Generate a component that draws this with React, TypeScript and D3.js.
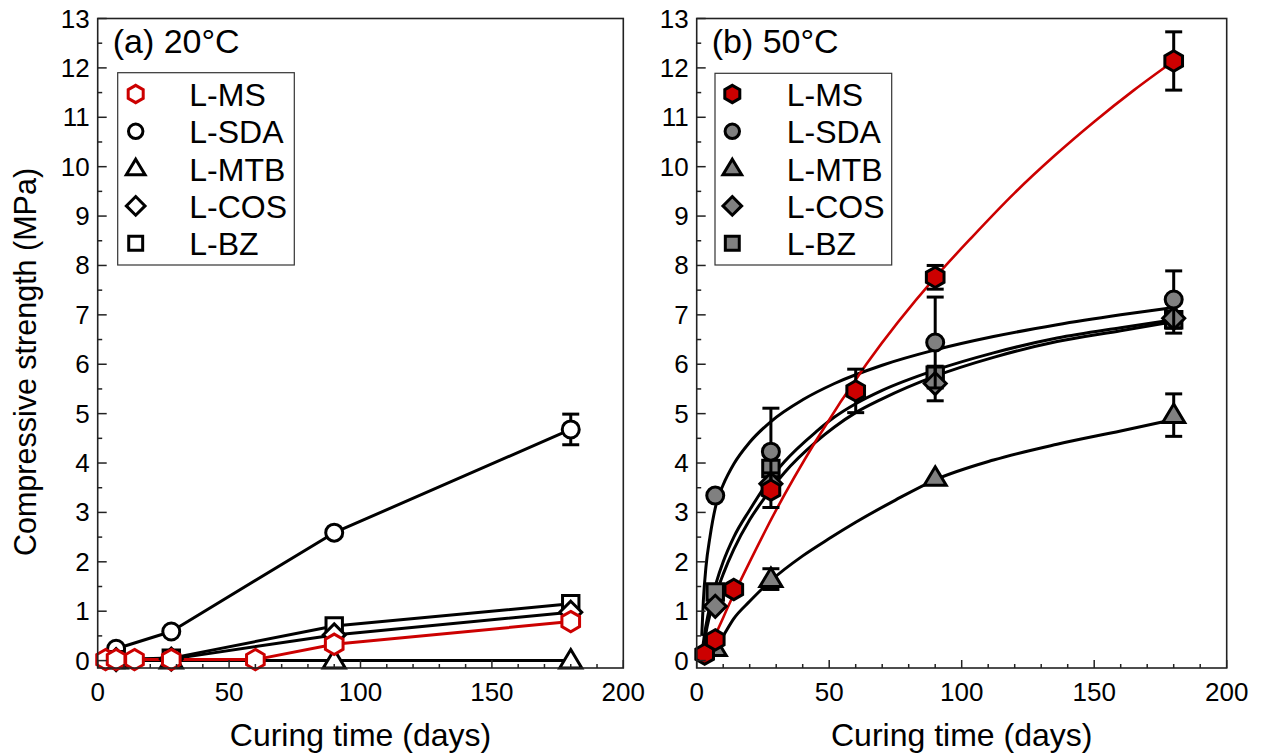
import React from "react";
import * as d3 from "d3";

// ---------- data ----------
const seriesNames = ["L-MS", "L-SDA", "L-MTB", "L-COS", "L-BZ"];
const seriesShapes = ["hexagon", "circle", "triangle", "diamond", "square"];

// (a) 20 °C measured points
const msDays20 = [3, 7, 14, 28, 60, 90, 180];
const msVals20 = [0.02, 0.02, 0.02, 0.02, 0.02, 0.33, 0.79];
const otherDays20 = [7, 28, 90, 180];
const sdaVals20 = [0.24, 0.59, 2.59, 4.68];
const sdaErr20 = [0, 0, 0, 0.31];
const mtbVals20 = [0.0, 0.0, 0.0, 0.0];
const cosVals20 = [0.02, 0.03, 0.52, 0.98];
const bzVals20 = [0.02, 0.05, 0.7, 1.15];

// (b) 50 °C measured points
const msDays50 = [3, 7, 14, 28, 60, 90, 180];
const msVals50 = [0.13, 0.42, 1.44, 3.45, 5.46, 7.76, 12.14];
const msErr50 = [0, 0, 0, 0.35, 0.44, 0.24, 0.59];
const otherDays50 = [7, 28, 90, 180];
const sdaVals50 = [3.34, 4.23, 6.44, 7.31];
const sdaErr50 = [0, 0.88, 0.92, 0.58];
const mtbVals50 = [0.25, 1.65, 3.7, 4.97];
const mtbErr50 = [0, 0.21, 0, 0.43];
const cosVals50 = [1.1, 3.58, 5.61, 6.93];
const cosErr50 = [0, 0, 0.35, 0.3];
const bzVals50 = [1.39, 3.89, 5.78, 6.9];
const bzErr50 = [0, 0, 0.15, 0.15];

// (b) fitted curves
const msFitDays = [3, 7, 12.6, 20, 30, 45, 64, 90, 104, 120, 135, 150, 165, 180];
const msFitVals = [0.1, 0.52, 1.18, 2.0, 3.05, 4.45, 6.0, 7.76, 8.58, 9.47, 10.22, 10.91, 11.55, 12.14];
const sdaFitDays = [1.9, 2.5, 3.5, 5, 7.5, 10, 14, 20, 28, 40, 52, 70, 90, 112, 136, 160, 180];
const sdaFitVals = [0.5, 1.2, 1.9, 2.5, 3.2, 3.56, 3.98, 4.42, 4.84, 5.28, 5.61, 5.98, 6.29, 6.56, 6.8, 7.0, 7.15];
const mtbFitDays = [4, 7, 10, 14, 20, 28, 40, 50, 60, 75, 90, 112, 136, 160, 180];
const mtbFitVals = [0.0, 0.25, 0.5, 0.85, 1.2, 1.62, 2.12, 2.47, 2.8, 3.25, 3.66, 4.06, 4.38, 4.65, 4.88];
const cosFitDays = [2, 3, 4, 5.5, 7.5, 10, 14, 20, 26, 33, 45, 52, 60, 70, 90, 112, 136, 160, 180];
const cosFitVals = [0.05, 0.4, 0.7, 1.02, 1.38, 1.75, 2.25, 2.85, 3.32, 3.8, 4.43, 4.73, 5.02, 5.3, 5.76, 6.14, 6.46, 6.68, 6.86];
const bzFitDays = [2, 3, 4, 5.5, 7.5, 10, 14, 20, 26, 33, 45, 52, 60, 70, 90, 112, 136, 160, 180];
const bzFitVals = [0.15, 0.55, 0.85, 1.2, 1.6, 2.0, 2.5, 3.05, 3.55, 4.02, 4.63, 4.93, 5.2, 5.47, 5.88, 6.23, 6.53, 6.74, 6.9];

const xTicksMajor = [0, 50, 100, 150, 200];
const yTicksMajor = d3.range(0, 14, 1);
const panelTitles = ["(a) 20°C", "(b) 50°C"];
const xTitle = "Curing time (days)";
const yTitle = "Compressive strength (MPa)";

// ---------- styles ----------
const RED = "#cc0000";
const GREY = "#808080";
const FONT = "'Liberation Sans', Arial, Helvetica, sans-serif";

function symbolPath(shape: string, cx: number, cy: number, s = 1): string {
  if (shape === "circle") {
    const r = 8.5 * s;
    return `M${cx - r},${cy}a${r},${r} 0 1,0 ${2 * r},0a${r},${r} 0 1,0 ${-2 * r},0Z`;
  }
  if (shape === "hexagon") {
    const r = 10.2 * s;
    const pts = d3.range(6).map((i) => {
      const a = (Math.PI / 3) * i - Math.PI / 2;
      return [cx + r * Math.cos(a), cy + r * Math.sin(a)];
    });
    return "M" + pts.map((p) => p.join(",")).join("L") + "Z";
  }
  if (shape === "triangle") {
    const h = 10.5 * s;
    return `M${cx},${cy - h * 1.05}L${cx + h * 1.05},${cy + h * 0.7}L${cx - h * 1.05},${cy + h * 0.7}Z`;
  }
  if (shape === "diamond") {
    const r = 11 * s;
    return `M${cx},${cy - r}L${cx + r},${cy}L${cx},${cy + r}L${cx - r},${cy}Z`;
  }
  const h = 8.2 * s;
  return `M${cx - h},${cy - h}H${cx + h}V${cy + h}H${cx - h}Z`;
}

type Series = {
  name: string;
  shape: string;
  days: number[];
  vals: number[];
  errs?: number[];
  fitDays?: number[];
  fitVals?: number[];
  stroke: string;
  fill: string;
  lineColor: string;
  lineWidth: number;
};

const Panel = ({
  x0,
  x1,
  series,
  title,
  legendBox,
  legendMarkerX,
  legendTextX,
  fitted,
}: {
  x0: number;
  x1: number;
  series: Series[];
  title: string;
  legendBox: [number, number, number, number];
  legendMarkerX: number;
  legendTextX: number;
  fitted: boolean;
}) => {
  const top = 18.5;
  const bottom = 668;
  const x = d3.scaleLinear().domain([0, 200]).range([x0, x1]);
  const y = d3.scaleLinear().domain([-0.15, 13]).range([bottom, top]);
  const xMinor = d3.range(0, 201, 10);
  const yMinor = d3.range(0, 13.01, 0.5);
  const line = d3
    .line<[number, number]>()
    .x((d) => x(d[0]))
    .y((d) => y(d[1]));
  const curve = d3
    .line<[number, number]>()
    .x((d) => x(d[0]))
    .y((d) => y(d[1]))
    .curve(d3.curveMonotoneX);

  const legendOrder = ["L-MS", "L-SDA", "L-MTB", "L-COS", "L-BZ"];
  const drawOrder = fitted
    ? ["L-MTB", "L-BZ", "L-COS", "L-SDA", "L-MS"]
    : ["L-SDA", "L-MTB", "L-BZ", "L-COS", "L-MS"];
  const byName = (n: string) => series.find((s) => s.name === n)!;

  return (
    <g>
      {drawOrder.map((n) => {
        const s = byName(n);
        const pts: [number, number][] = fitted
          ? s.fitDays!.map((d, i) => [d, s.fitVals![i]])
          : s.days.map((d, i) => [d, s.vals[i]]);
        return (
          <path
            key={"l" + n}
            d={(fitted ? curve(pts) : line(pts)) || ""}
            fill="none"
            stroke={s.lineColor}
            strokeWidth={s.lineWidth}
            strokeLinejoin="round"
          />
        );
      })}
      {drawOrder.map((n) => {
        const s = byName(n);
        return (
          <g key={"m" + n}>
            {s.errs &&
              s.days.map((d, i) =>
                s.errs![i] > 0 ? (
                  <g key={"e" + i} stroke="#000" strokeWidth={3} fill="none">
                    <line x1={x(d)} x2={x(d)} y1={y(s.vals[i] - s.errs![i])} y2={y(s.vals[i] + s.errs![i])} />
                    <line x1={x(d) - 8.5} x2={x(d) + 8.5} y1={y(s.vals[i] - s.errs![i])} y2={y(s.vals[i] - s.errs![i])} />
                    <line x1={x(d) - 8.5} x2={x(d) + 8.5} y1={y(s.vals[i] + s.errs![i])} y2={y(s.vals[i] + s.errs![i])} />
                  </g>
                ) : null
              )}
            {s.days.map((d, i) => (
              <path
                key={"p" + i}
                d={symbolPath(s.shape, x(d), y(s.vals[i]))}
                fill={s.fill}
                stroke={s.stroke}
                strokeWidth={3}
                strokeLinejoin="miter"
              />
            ))}
          </g>
        );
      })}
      <rect x={x0} y={top} width={x1 - x0} height={bottom - top} fill="none" stroke="#222" strokeWidth={1.6} />
      {xMinor.map((t) => (
        <line
          key={"xt" + t}
          x1={x(t)}
          x2={x(t)}
          y1={bottom}
          y2={bottom - (t % 50 === 0 ? 8 : 4)}
          stroke="#222"
          strokeWidth={1.5}
        />
      ))}
      {xTicksMajor.map((t) => (
        <text key={"xl" + t} x={x(t)} y={701} textAnchor="middle" fontSize={26} fontFamily={FONT} fill="#000">
          {t}
        </text>
      ))}
      {yMinor.map((t) => (
        <line
          key={"yt" + t}
          x1={x0}
          x2={x0 + (Math.abs(t - Math.round(t)) < 1e-6 ? 9 : 4.5)}
          y1={y(t)}
          y2={y(t)}
          stroke="#222"
          strokeWidth={1.5}
        />
      ))}
      {yTicksMajor.map((t) => (
        <text
          key={"yl" + t}
          x={x0 - 8}
          y={y(t) + 9}
          textAnchor="end"
          fontSize={26}
          fontFamily={FONT}
          fill="#000"
        >
          {t}
        </text>
      ))}
      <text x={x0 + 15} y={53} fontSize={34} fontFamily={FONT} fill="#000">
        {title}
      </text>
      <text x={(x0 + x1) / 2} y={746} textAnchor="middle" fontSize={32} fontFamily={FONT} fill="#000">
        {xTitle}
      </text>
      <rect
        x={legendBox[0]}
        y={legendBox[1]}
        width={legendBox[2] - legendBox[0]}
        height={legendBox[3] - legendBox[1]}
        fill="#fff"
        stroke="#333"
        strokeWidth={1.2}
      />
      {legendOrder.map((n, i) => {
        const s = byName(n);
        const cy = 94 + 37.3 * i;
        return (
          <g key={"lg" + n}>
            <path d={symbolPath(s.shape, legendMarkerX, cy, 0.85)} fill={s.fill} stroke={s.stroke} strokeWidth={3} />
            <text x={legendTextX} y={cy + 12} fontSize={32} fontFamily={FONT} fill="#000">
              {n}
            </text>
          </g>
        );
      })}
    </g>
  );
};

export default function App() {
  const mk = (
    i: number,
    days: number[],
    vals: number[],
    errs: number[] | undefined,
    fitDays: number[] | undefined,
    fitVals: number[] | undefined,
    hot: boolean
  ): Series => {
    const isMS = seriesNames[i] === "L-MS";
    return {
      name: seriesNames[i],
      shape: seriesShapes[i],
      days,
      vals,
      errs,
      fitDays,
      fitVals,
      stroke: hot ? "#000" : isMS ? RED : "#000",
      fill: hot ? (isMS ? RED : GREY) : "#fff",
      lineColor: isMS ? RED : "#000",
      lineWidth: hot && isMS ? 2.6 : 3,
    };
  };

  const s20: Series[] = [
    mk(0, msDays20, msVals20, undefined, undefined, undefined, false),
    mk(1, otherDays20, sdaVals20, sdaErr20, undefined, undefined, false),
    mk(2, otherDays20, mtbVals20, undefined, undefined, undefined, false),
    mk(3, otherDays20, cosVals20, undefined, undefined, undefined, false),
    mk(4, otherDays20, bzVals20, undefined, undefined, undefined, false),
  ];
  const s50: Series[] = [
    mk(0, msDays50, msVals50, msErr50, msFitDays, msFitVals, true),
    mk(1, otherDays50, sdaVals50, sdaErr50, sdaFitDays, sdaFitVals, true),
    mk(2, otherDays50, mtbVals50, mtbErr50, mtbFitDays, mtbFitVals, true),
    mk(3, otherDays50, cosVals50, cosErr50, cosFitDays, cosFitVals, true),
    mk(4, otherDays50, bzVals50, bzErr50, bzFitDays, bzFitVals, true),
  ];

  return (
    <svg
      width={1263}
      height={756}
      viewBox="0 0 1263 756"
      style={{ position: "absolute", left: 0, top: 0, background: "#fff" }}
    >
      <rect x={0} y={0} width={1263} height={756} fill="#fff" />
      <Panel
        x0={97.7}
        x1={623.3}
        series={s20}
        title={panelTitles[0]}
        legendBox={[117.7, 72.7, 294.3, 265]}
        legendMarkerX={135.7}
        legendTextX={189.3}
        fitted={false}
      />
      <Panel
        x0={696.7}
        x1={1226.7}
        series={s50}
        title={panelTitles[1]}
        legendBox={[715, 73.3, 891.7, 265]}
        legendMarkerX={732.3}
        legendTextX={786.7}
        fitted={true}
      />
      <text
        transform="translate(36,362) rotate(-90)"
        textAnchor="middle"
        fontSize={30.5}
        fontFamily={FONT}
        fill="#000"
      >
        {yTitle}
      </text>
    </svg>
  );
}
